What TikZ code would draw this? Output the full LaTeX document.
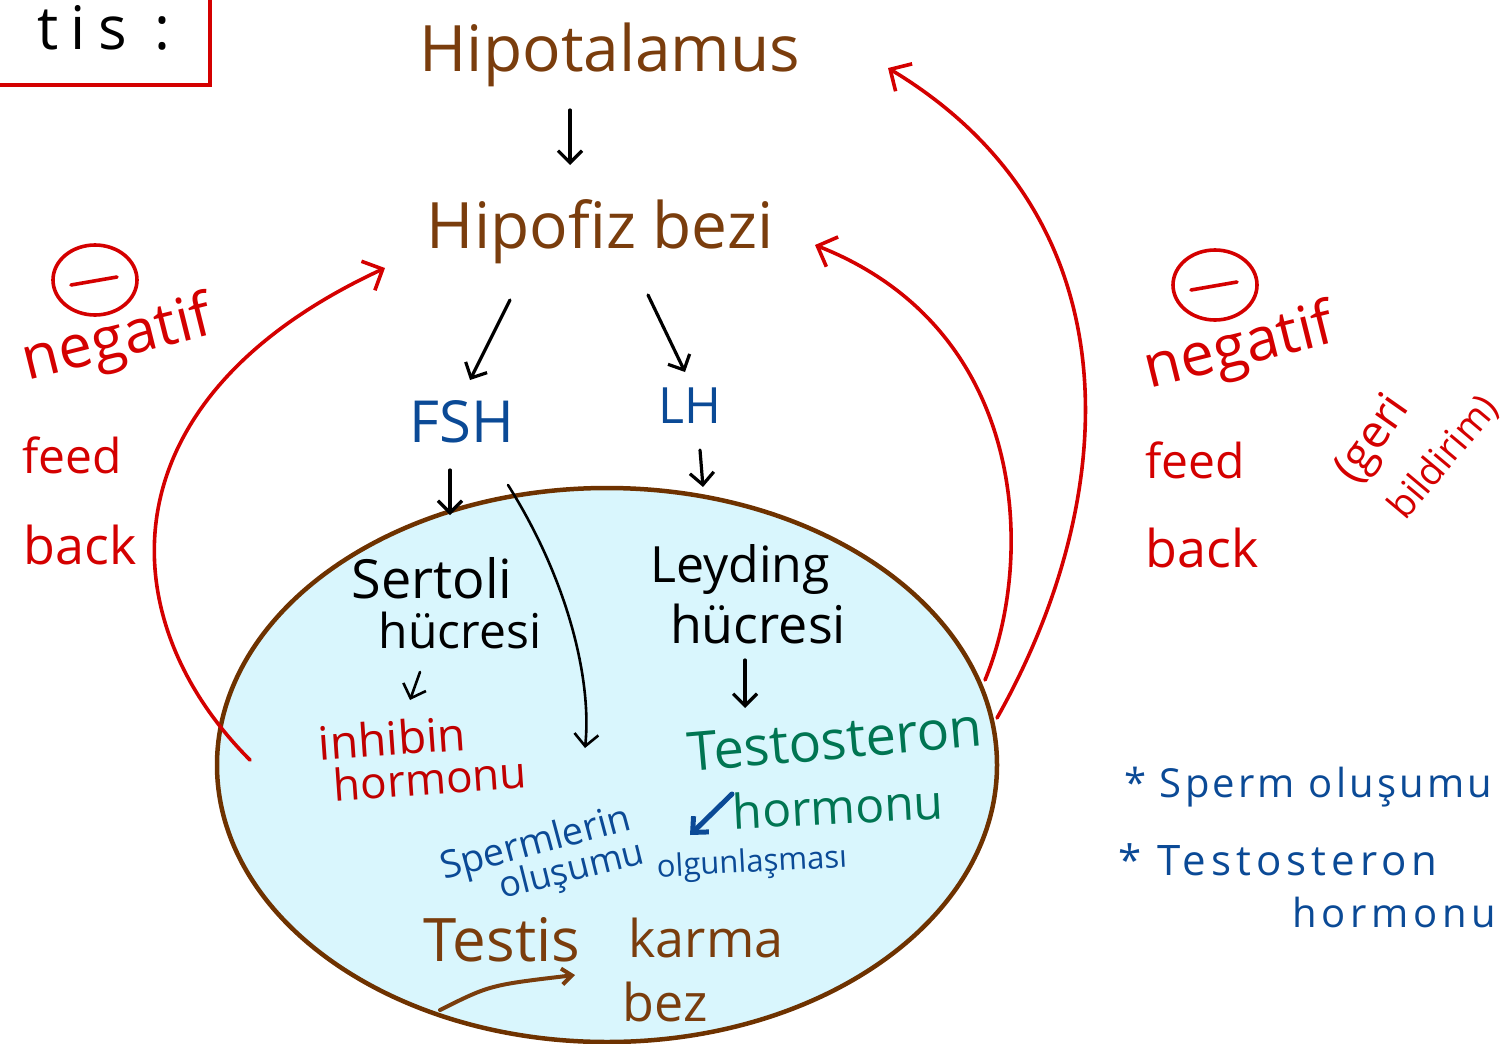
\documentclass[tikz,border=0pt]{standalone}
\usepackage{fontspec}
\setmainfont{Open Sans}
\usetikzlibrary{arrows.meta,shapes.geometric,calc}
\definecolor{brn}{HTML}{7A3D0D}
\definecolor{rim}{HTML}{6E3200}
\definecolor{inkblue}{HTML}{0B4A96}
\definecolor{inkred}{HTML}{D40000}
\definecolor{darkred}{HTML}{C00000}
\definecolor{inkgreen}{HTML}{007552}
\definecolor{gland}{HTML}{D9F6FD}
\tikzset{
  txt/.style={inner sep=0pt, font=\fontsize{#1}{#1}\selectfont},
  wide/.style={font=\fontsize{#1}{#1}\selectfont\addfontfeatures{LetterSpace=12}},
  arr/.style={line width=3.2pt, line cap=round, -{Straight Barb[length=12pt,width=24pt]}},
  fb/.style={arr, draw=inkred, line width=3.6pt, -{Straight Barb[length=16pt,width=32pt]}},
  minus/.style={draw=inkred, line width=3.6pt, ellipse, minimum width=84pt, minimum height=70pt, inner sep=0pt}
}
\begin{document}
\begin{tikzpicture}[x=1pt,y=-1pt]
\useasboundingbox (0,0) rectangle (1510,1044);

% title box
\draw[inkred, line width=3.6pt] (-5,-5) rectangle (210,85);
\node[txt=60, font=\fontsize{60}{60}\selectfont\addfontfeatures{LetterSpace=20}] (title) at (104,28) {tis :};

% the testis as a gland
\node[ellipse, draw=rim, fill=gland, line width=4.5pt, minimum width=780pt, minimum height=554pt] (testis) at (607,765) {};

% hormone axis
\node[txt=64, text=brn] (hipot) at (610,55) {Hipotalamus};
\node[txt=64, text=brn] (hipof) at (600,232) {Hipofiz bezi};
\node[txt=58, text=inkblue] (fsh) at (462,422) {FSH};
\node[txt=50, text=inkblue] (lh) at (690,406) {LH};

\draw[arr] ($(hipot)+(-40,55)$) -- ($(hipof)+(-30,-67)$);
\draw[arr] ($(hipof)+(-90,68)$) -- ($(fsh)+(8,-42)$);
\draw[arr] ($(hipof)+(48,63)$) -- ($(lh)+(-5,-34)$);
\draw[arr] ($(fsh)+(-12,48)$) -- ($(fsh)+(-12,93)$);
\draw[arr] ($(lh)+(10,44)$) -- ($(lh)+(13,81)$);

% Sertoli side
\node[txt=54] (sert1) at (432,578) {Sertoli};
\node[txt=48] (sert2) at (460,630) {hücresi};
\node[txt=46, text=darkred, rotate=4] (inh1) at (392,738) {inhibin};
\node[txt=44, text=darkred, rotate=4] (inh2) at (430,778) {hormonu};
\draw[arr, line width=2.6pt] ($(sert2)+(-40,42)$) -- ($(inh1)+(18,-38)$);

% Leydig side
\node[txt=50] (ley1) at (740,570) {Leyding};
\node[txt=52] (ley2) at (758,624) {hücresi};
\node[txt=54, text=inkgreen, rotate=5] (tes1) at (835,740) {Testosteron};
\node[txt=48, text=inkgreen, rotate=3] (tes2) at (838,806) {hormonu};
\draw[arr] ($(ley2)+(-13,36)$) -- ($(tes1)+(-90,-32)$);

% effects inside the gland
\node[txt=38, text=inkblue, rotate=15] (sp1) at (536,845) {Spermlerin};
\node[txt=36, text=inkblue, rotate=14] (sp2) at (572,872) {oluşumu};
\node[txt=31, text=inkblue, rotate=3] (olg) at (752,864) {olgunlaşması};
\draw[arr, draw=inkblue, line width=5pt, -{Straight Barb[length=12pt,width=22pt]}] ($(tes2)+(-106,-12)$) -- ($(olg)+(-62,-29)$);
\draw[arr, line width=2.6pt] ($(fsh)+(46,63)$) .. controls (568,580) and (592,680) .. ($(sp2)+(13,-124)$);

\node[txt=60, text=brn] (t1) at (502,940) {Testis};
\node[txt=52, text=brn] (t2) at (706,938) {karma};
\node[txt=52, text=brn] (t3) at (665,1002) {bez};
\coordinate (ulstart) at (440,1010);
\draw[arr, draw=brn, line width=4pt, -{Straight Barb[length=10pt,width=16pt]}] (ulstart) .. controls (490,985) .. ($(t1)+(73,35)$);

% negative feedback, left
\node[minus] (m1) at (95,280) {};
\draw[inkred, line width=3.6pt, line cap=round] ($(m1)+(-24,5)$) -- ($(m1)+(22,-3)$);
\node[txt=60, text=inkred, rotate=14] (neg1) at (118,342) {negatif};
\node[txt=48, text=inkred] (feed1) at (72,455) {feed};
\node[txt=52, text=inkred] (back1) at (80,545) {back};

% negative feedback, right
\node[minus] (m2) at (1215,285) {};
\draw[inkred, line width=3.6pt, line cap=round] ($(m2)+(-24,5)$) -- ($(m2)+(22,-3)$);
\node[txt=60, text=inkred, rotate=14] (neg2) at (1240,350) {negatif};
\node[txt=48, text=inkred] (feed2) at (1195,460) {feed};
\node[txt=52, text=inkred] (back2) at (1202,548) {back};
\node[txt=46, text=inkred, rotate=55] (geri) at (1374,440) {(geri};
\node[txt=38, text=inkred, rotate=50] (bild) at (1444,458) {bildirim)};

% feedback loops
\coordinate (fbL) at (250,760);
\coordinate (fbR1) at (985,680);
\coordinate (fbR2) at (997,718);
\draw[fb] (fbL) .. controls (110,620) and (100,400) .. ($(hipof)+(-215,36)$);
\draw[fb] (fbR1) .. controls (1035,560) and (1030,330) .. ($(hipof)+(215,13)$);
\draw[fb] (fbR2) .. controls (1120,500) and (1140,220) .. ($(hipot)+(278,13)$);

% summary notes
\node[txt=40, font=\fontsize{40}{40}\selectfont\addfontfeatures{LetterSpace=8}, text=inkblue, anchor=west] (n1) at (1124,787) {* Sperm oluşumu};
\node[txt=42, wide=42, text=inkblue, anchor=west] (n2) at (1118,860) {* Testosteron};
\node[txt=40, wide=40, text=inkblue, anchor=west] (n3) at (1292,912) {hormonu};
\end{tikzpicture}
\end{document}
